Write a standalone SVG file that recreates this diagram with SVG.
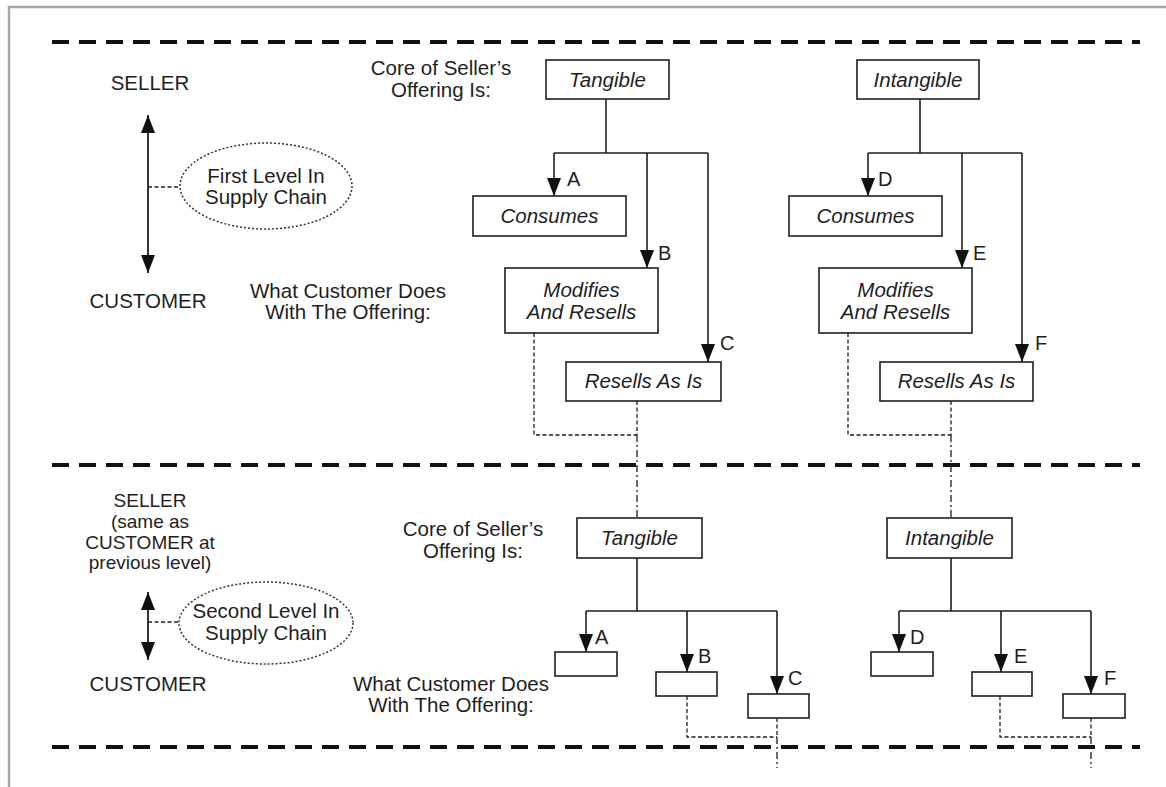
<svg xmlns="http://www.w3.org/2000/svg" width="1166" height="787" viewBox="0 0 1166 787">
  <style>
    text { font-family: "Liberation Sans", Arial, sans-serif; font-size: 20.5px; fill: #1e1e1e; }
    .c { text-anchor: middle; }
    .tight { font-size: 19px; }
    .it { font-style: italic; text-anchor: middle; }
    .lbl { font-size: 20px; }
    .box { fill: #fff; stroke: #1e1e1e; stroke-width: 1.6; }
    .wire { fill: none; stroke: #1e1e1e; stroke-width: 1.6; }
    .arr { fill: none; stroke: #1e1e1e; stroke-width: 1.6; marker-end: url(#head); }
    .dbl { fill: none; stroke: #1e1e1e; stroke-width: 1.8; marker-start: url(#head); marker-end: url(#head); }
    .dash { fill: none; stroke: #1e1e1e; stroke-width: 1.3; stroke-dasharray: 4 2.5; }
    .dashdot { fill: none; stroke: #1e1e1e; stroke-width: 1.3; stroke-dasharray: 7 3 2 3; }
    .sep { fill: none; stroke: #111; stroke-width: 4; stroke-dasharray: 17 10; }
    .oval { fill: none; stroke: #333; stroke-width: 1.5; stroke-dasharray: 2 2; }
    .frame { fill: none; stroke: #a6a6a6; stroke-width: 2.5; }
  </style>
  <defs>
    <marker id="head" viewBox="0 0 18 14" refX="18" refY="7" markerWidth="18" markerHeight="14" markerUnits="userSpaceOnUse" orient="auto-start-reverse">
      <path d="M0,0 L18,7 L0,14 z" fill="#111"/>
    </marker>
  </defs>

  <rect width="1166" height="787" fill="#fff"/>
  <!-- page frame (top and left edges) -->
  <path class="frame" d="M9,787 V7 H1166"/>

  <!-- level separators -->
  <g id="separators">
    <path class="sep" d="M52,42 H1140"/>
    <path class="sep" d="M52,465 H1140"/>
    <path class="sep" d="M52,747 H1140"/>
  </g>

  <!-- first level: side legend -->
  <g id="level1-legend">
    <text class="c" x="150" y="90">SELLER</text>
    <text class="c" x="148" y="308">CUSTOMER</text>
    <ellipse class="oval" cx="266" cy="186" rx="86" ry="43"/>
    <text class="c" x="266" y="183">First Level In</text>
    <text class="c" x="266" y="204">Supply Chain</text>
  </g>
  <g id="level1-captions">
    <text class="c" x="441" y="75">Core of Seller’s</text>
    <text class="c" x="441" y="97">Offering Is:</text>
    <text class="c" x="348" y="298">What Customer Does</text>
    <text class="c" x="348" y="319">With The Offering:</text>
  </g>

  <!-- first level: tangible branch -->
  <g id="tangible-1"><rect class="box" x="546" y="60" width="123" height="39"/><text class="it" x="607.5" y="87">Tangible</text></g>
  <g id="consumes-1"><rect class="box" x="473" y="196" width="153" height="40"/><text class="it" x="549.5" y="223">Consumes</text></g>
  <g id="modifies-1"><rect class="box" x="505" y="268" width="153" height="65"/><text class="it" x="581.5" y="297">Modifies</text><text class="it" x="581.5" y="319">And Resells</text></g>
  <g id="resells-1"><rect class="box" x="566" y="362" width="155" height="39"/><text class="it" x="643.5" y="388">Resells As Is</text></g>

  <!-- first level: intangible branch -->
  <g id="intangible-1"><rect class="box" x="857" y="60" width="122" height="39"/><text class="it" x="918" y="87">Intangible</text></g>
  <g id="consumes-2"><rect class="box" x="789" y="196" width="153" height="40"/><text class="it" x="865.5" y="223">Consumes</text></g>
  <g id="modifies-2"><rect class="box" x="819" y="268" width="153" height="65"/><text class="it" x="895.5" y="297">Modifies</text><text class="it" x="895.5" y="319">And Resells</text></g>
  <g id="resells-2"><rect class="box" x="880" y="362" width="153" height="39"/><text class="it" x="956.5" y="388">Resells As Is</text></g>

  <!-- second level: side legend -->
  <g id="level2-legend">
    <text class="c tight" x="150" y="507">SELLER</text>
    <text class="c tight" x="150" y="528">(same as</text>
    <text class="c tight" x="150" y="549">CUSTOMER at</text>
    <text class="c tight" x="150" y="569">previous level)</text>
    <text class="c" x="148" y="691">CUSTOMER</text>
    <ellipse class="oval" cx="266" cy="623" rx="87" ry="41"/>
    <text class="c" x="266" y="618">Second Level In</text>
    <text class="c" x="266" y="640">Supply Chain</text>
  </g>
  <g id="level2-captions">
    <text class="c" x="473" y="536">Core of Seller’s</text>
    <text class="c" x="473" y="558">Offering Is:</text>
    <text class="c" x="451" y="691">What Customer Does</text>
    <text class="c" x="451" y="712">With The Offering:</text>
  </g>

  <!-- second level: tangible branch -->
  <g id="tangible-2"><rect class="box" x="577" y="518" width="125" height="40"/><text class="it" x="639.5" y="545">Tangible</text></g>
  <g id="a-2"><rect class="box" x="555" y="652" width="62" height="24"/></g>
  <g id="b-2"><rect class="box" x="656" y="672" width="61" height="24"/></g>
  <g id="c-2"><rect class="box" x="748" y="694" width="61" height="24"/></g>

  <!-- second level: intangible branch -->
  <g id="intangible-2"><rect class="box" x="887" y="518" width="125" height="40"/><text class="it" x="949.5" y="545">Intangible</text></g>
  <g id="d-2"><rect class="box" x="871" y="652" width="62" height="24"/></g>
  <g id="e-2"><rect class="box" x="972" y="672" width="60" height="24"/></g>
  <g id="f-2"><rect class="box" x="1063" y="694" width="62" height="24"/></g>

  <!-- connectors -->
  <g id="connectors">
    <!-- seller / customer double arrows -->
    <path class="dbl" d="M148,115 V273"/>
    <path class="dash" d="M148,187 H180"/>
    <path class="dbl" d="M148,592 V660"/>
    <path class="dash" d="M148,622 H179"/>

    <!-- level 1 tangible -->
    <path class="wire" d="M606,99 V153 M554,153 H708"/>
    <path class="arr" d="M554,153 V196"/>
    <path class="arr" d="M647,153 V268"/>
    <path class="arr" d="M708,153 V362"/>
    <!-- level 1 intangible -->
    <path class="wire" d="M920,99 V153 M868,153 H1022"/>
    <path class="arr" d="M868,153 V196"/>
    <path class="arr" d="M962,153 V268"/>
    <path class="arr" d="M1022,153 V362"/>

    <!-- hand-off from level 1 to level 2 -->
    <path class="dash" d="M534,333 V435 H637 M637,401 V435"/>
    <path class="dashdot" d="M637,435 V518"/>
    <path class="dash" d="M848,333 V435 H951 M951,401 V435"/>
    <path class="dashdot" d="M951,435 V518"/>

    <!-- level 2 tangible -->
    <path class="wire" d="M637,558 V611 M586,611 H777"/>
    <path class="arr" d="M586,611 V652"/>
    <path class="arr" d="M687,611 V672"/>
    <path class="arr" d="M777,611 V694"/>
    <!-- level 2 intangible -->
    <path class="wire" d="M951,558 V611 M899,611 H1091"/>
    <path class="arr" d="M899,611 V652"/>
    <path class="arr" d="M1001,611 V672"/>
    <path class="arr" d="M1091,611 V694"/>

    <!-- hand-off to the next level -->
    <path class="dash" d="M687,696 V737 H777 M777,718 V737"/>
    <path class="dashdot" d="M777,737 V768"/>
    <path class="dash" d="M1000,696 V737 H1091 M1091,718 V737"/>
    <path class="dashdot" d="M1091,737 V768"/>
  </g>

  <!-- branch letters -->
  <g id="branch-labels">
    <text class="lbl" x="567" y="186">A</text>
    <text class="lbl" x="658" y="260">B</text>
    <text class="lbl" x="720" y="350">C</text>
    <text class="lbl" x="878" y="186">D</text>
    <text class="lbl" x="973" y="260">E</text>
    <text class="lbl" x="1035" y="350">F</text>
    <text class="lbl" x="595" y="644">A</text>
    <text class="lbl" x="698" y="663">B</text>
    <text class="lbl" x="788" y="685">C</text>
    <text class="lbl" x="910" y="644">D</text>
    <text class="lbl" x="1014" y="663">E</text>
    <text class="lbl" x="1104" y="685">F</text>
  </g>
</svg>
